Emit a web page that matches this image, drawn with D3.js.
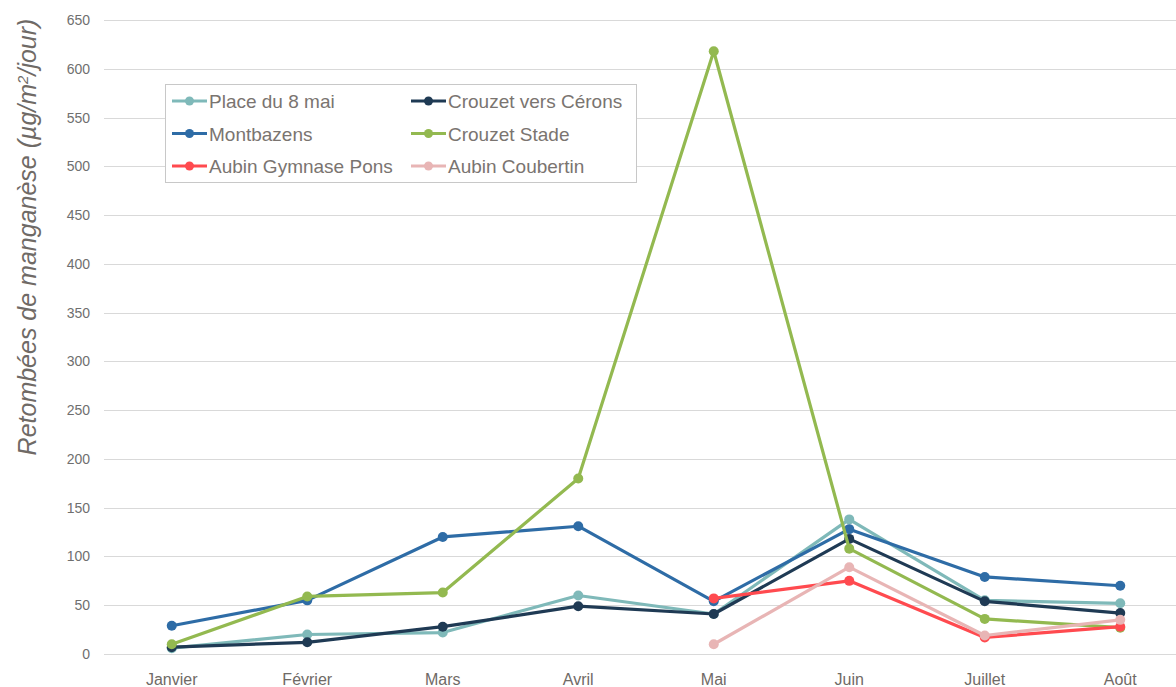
<!DOCTYPE html>
<html>
<head>
<meta charset="utf-8">
<script src="https://cdn.jsdelivr.net/npm/d3@7"></script>
<style>
  body { margin: 0; background: #fff; }
  svg { display: block; font-family: "Liberation Sans", Arial, sans-serif; }
</style>
</head>
<body>
<svg id="chart" width="1176" height="687"></svg>
<script>
/* SECTION: data */

var months = ["Janvier", "Février", "Mars", "Avril", "Mai", "Juin", "Juillet", "Août"];
var yTicks = [0, 50, 100, 150, 200, 250, 300, 350, 400, 450, 500, 550, 600, 650];

var placeDu8Mai      = [6, 20, 22, 60, 41, 138, 55, 52];
var crouzetCerons    = [7, 12, 28, 49, 41, 118, 54, 42];
var montbazens       = [29, 55, 120, 131, 54, 128, 79, 70];
var crouzetStade     = [10, 59, 63, 180, 618, 108, 36, 27];
var aubinGymnasePons = [null, null, null, null, 57, 75, 17, 28];
var aubinCoubertin   = [null, null, null, null, 10, 89, 19, 35];

var series = [
  { name: "Place du 8 mai", values: placeDu8Mai, color: "#7fb9b9" },
  { name: "Crouzet vers Cérons", values: crouzetCerons, color: "#1f3a54" },
  { name: "Montbazens", values: montbazens, color: "#2e6ca6" },
  { name: "Crouzet Stade", values: crouzetStade, color: "#93b950" },
  { name: "Aubin Gymnase Pons", values: aubinGymnasePons, color: "#ff4a4f" },
  { name: "Aubin Coubertin", values: aubinCoubertin, color: "#e8b5b5" }
];

/* SECTION: scales */

var svg = d3.select("#chart");
var plotLeft = 104, plotRight = 1188, plotTop = 20, plotBottom = 654;

var x = d3.scalePoint().domain(months).range([plotLeft, plotRight]).padding(0.5);
var y = d3.scaleLinear().domain([0, 650]).range([plotBottom, plotTop]);

// grid
svg.append("g").selectAll("line").data(yTicks).enter().append("line")
    .attr("x1", plotLeft).attr("x2", 1176)
    .attr("y1", function(d) { return Math.round(y(d)) + 0.5; })
    .attr("y2", function(d) { return Math.round(y(d)) + 0.5; })
    .attr("stroke", "#d9d9d9").attr("stroke-width", 1);

// y axis labels
svg.append("g").selectAll("text").data(yTicks).enter().append("text")
    .attr("x", 90).attr("y", function(d) { return y(d) + 5; })
    .attr("text-anchor", "end").attr("font-size", 14).attr("fill", "#6f6f6f")
    .text(function(d) { return d; });

// x axis labels
svg.append("g").selectAll("text").data(months).enter().append("text")
    .attr("x", function(d) { return x(d); }).attr("y", 685)
    .attr("text-anchor", "middle").attr("font-size", 16).attr("fill", "#6f6a66")
    .text(function(d) { return d; });

// y title
svg.append("text")
    .attr("transform", "translate(36," + 237 + ") rotate(-90)")
    .attr("text-anchor", "middle")
    .attr("font-family", "'Liberation Sans Narrow', 'Arial Narrow', 'Liberation Sans', sans-serif")
    .attr("font-style", "italic").attr("font-size", 25).attr("fill", "#6f6a66")
    .html("Retombées de manganèse (µg/m<tspan baseline-shift='super' font-size='15'>2</tspan>/jour)");

/* SECTION: lines */

var line = d3.line()
    .defined(function(d) { return d != null; })
    .x(function(d, i) { return x(months[i]); })
    .y(function(d) { return y(d); });

var g = svg.append("g");
series.forEach(function(s) {
  g.append("path").datum(s.values)
      .attr("d", line)
      .attr("fill", "none").attr("stroke", s.color)
      .attr("stroke-width", 3.2).attr("stroke-linejoin", "round");
  g.selectAll(null).data(s.values.map(function(v, i) { return { v: v, i: i }; })
      .filter(function(d) { return d.v != null; }))
    .enter().append("circle")
      .attr("cx", function(d) { return x(months[d.i]); })
      .attr("cy", function(d) { return y(d.v); })
      .attr("r", 5).attr("fill", s.color);
});

/* SECTION: legend */

var legend = svg.append("g");
legend.append("rect")
    .attr("x", 165.5).attr("y", 84.5).attr("width", 471).attr("height", 98)
    .attr("fill", "#fff").attr("stroke", "#c8c8c8").attr("stroke-width", 1);

series.forEach(function(s, j) {
  var col = j % 2, row = Math.floor(j / 2);
  var lx = col === 0 ? 172 : 411;
  var ly = 101 + row * 32.5;
  legend.append("line")
      .attr("x1", lx).attr("x2", lx + 35).attr("y1", ly).attr("y2", ly)
      .attr("stroke", s.color).attr("stroke-width", 3.2);
  legend.append("circle").attr("cx", lx + 17.5).attr("cy", ly).attr("r", 4.5).attr("fill", s.color);
  legend.append("text")
      .attr("x", lx + 37).attr("y", ly + 7)
      .attr("font-size", 19).attr("fill", "#7a7470")
      .text(s.name);
});
</script>
</body>
</html>
